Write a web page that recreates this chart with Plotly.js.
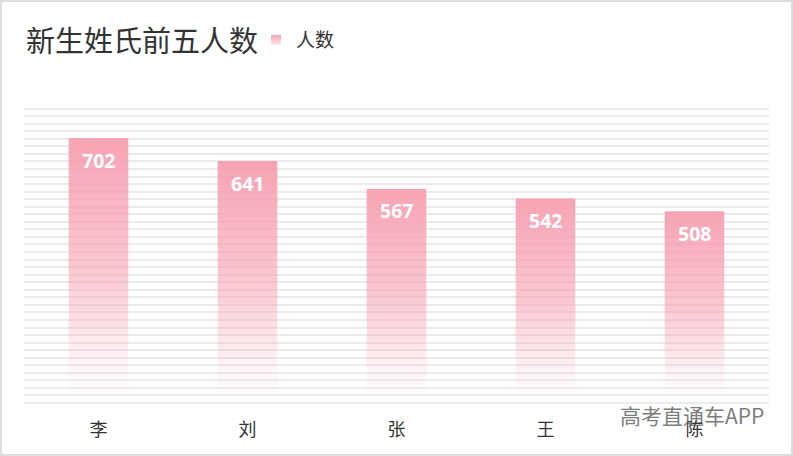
<!DOCTYPE html>
<html>
<head>
<meta charset="utf-8">
<script src="https://cdn.plot.ly/plotly-3.0.1.min.js"></script>
<style>
  html, body { margin: 0; padding: 0; background: #fff; }
  #wrap { position: relative; width: 793px; height: 456px; }
  #chart { width: 793px; height: 456px; }
  #frame { position: absolute; left: 0; top: 0; width: 793px; height: 456px;
           box-sizing: border-box; border: 2px solid #dcdcdc; pointer-events: none; }
</style>
</head>
<body>
<div id="wrap">
  <div id="chart"></div>
  <div id="frame"></div>
</div>
<script>
const surnames = ['李', '刘', '张', '王', '陈'];
const counts = [702, 641, 567, 542, 508];
const seriesName = '人数';

const pink = '247,163,179';
const cjk = '"Noto Sans CJK SC", "Microsoft YaHei", sans-serif';
const halfWidth = 0.2;

// each bar is a filled shape so it can carry its own vertical fade
const traces = surnames.map((name, i) => {
  const v = counts[i];
  return {
    type: 'scatter',
    mode: 'none',
    x: [i - halfWidth, i + halfWidth, i + halfWidth, i - halfWidth, i - halfWidth],
    y: [0, 0, v, v, 0],
    fill: 'toself',
    fillgradient: {
      type: 'vertical',
      colorscale: [
        [0, 'rgba(' + pink + ',0)'],
        [0.15, 'rgba(' + pink + ',0.12)'],
        [0.5, 'rgba(' + pink + ',0.6)'],
        [1, 'rgba(' + pink + ',1)']
      ]
    },
    name: seriesName,
    showlegend: false,
    hoverinfo: 'skip'
  };
});

// legend entry only: small faded square swatch like the original
traces.push({
  type: 'scatter',
  mode: 'markers',
  x: [null],
  y: [null],
  name: seriesName,
  marker: {
    symbol: 'square',
    size: 10,
    color: 'rgb(' + pink + ')',
    gradient: { type: 'vertical', color: 'rgb(253,228,234)' }
  },
  showlegend: true
});

const valueLabels = surnames.map((name, i) => ({
  x: i,
  y: counts[i],
  xref: 'x',
  yref: 'y',
  text: String(counts[i]),
  showarrow: false,
  yanchor: 'middle',
  yshift: -22,
  font: { family: '"Open Sans", "Noto Sans", sans-serif', size: 19.5, color: '#fff', weight: 'bold' }
}));

const layout = {
  width: 793,
  height: 456,
  margin: { l: 24, r: 24, t: 101, b: 53 },
  paper_bgcolor: '#fff',
  plot_bgcolor: '#fff',
  font: { family: cjk, color: '#333' },
  title: {
    text: '新生姓氏前五人数',
    font: { family: cjk, size: 29, color: '#333' },
    xref: 'container',
    x: 26 / 793,
    xanchor: 'left',
    yref: 'container',
    y: 1 - 42 / 456,
    yanchor: 'middle'
  },
  showlegend: true,
  legend: {
    orientation: 'h',
    xref: 'container',
    yref: 'container',
    x: 256 / 793,
    xanchor: 'left',
    y: 1 - 40 / 456,
    yanchor: 'middle',
    font: { family: cjk, size: 19, color: '#333' }
  },
  xaxis: {
    type: 'linear',
    range: [-0.5, 4.5],
    tickvals: [0, 1, 2, 3, 4],
    ticktext: surnames,
    showgrid: false,
    zeroline: false,
    showline: false,
    ticks: 'outside',
    ticklen: 10,
    tickcolor: 'rgba(0,0,0,0)',
    tickfont: { family: cjk, size: 18, color: '#333' },
    automargin: false,
    fixedrange: true
  },
  yaxis: {
    range: [0, 800],
    dtick: 20,
    showticklabels: false,
    gridcolor: '#ebebeb',
    gridwidth: 2,
    zeroline: true,
    zerolinecolor: '#ebebeb',
    zerolinewidth: 2,
    automargin: false,
    fixedrange: true
  },
  annotations: valueLabels.concat([{
    xref: 'paper',
    yref: 'paper',
    x: (766 - 24) / 745,
    y: (403 - 415) / 302,
    xanchor: 'right',
    yanchor: 'middle',
    text: '高考直通车APP',
    showarrow: false,
    font: { family: cjk, size: 21, color: 'rgba(100,100,100,0.85)' }
  }])
};

Plotly.newPlot('chart', traces, layout, { displayModeBar: false, staticPlot: true });
</script>
</body>
</html>
